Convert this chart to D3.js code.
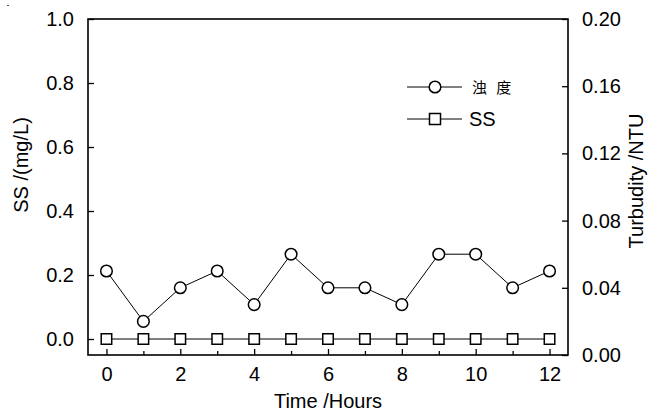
<!DOCTYPE html>
<html><head><meta charset="utf-8">
<script src="https://cdn.jsdelivr.net/npm/d3@7"></script>
<style>body{margin:0;background:#fff}svg{display:block}text{font-family:"Liberation Sans",Arial,sans-serif;fill:#000}</style>
</head><body>
<script>
const hours = [0,1,2,3,4,5,6,7,8,9,10,11,12];
const turbidity = [0.05,0.02,0.04,0.05,0.03,0.06,0.04,0.04,0.03,0.06,0.06,0.04,0.05];
const ss = [0,0,0,0,0,0,0,0,0,0,0,0,0];
const xTicks = [0,2,4,6,8,10,12];
const xMinor = [1,3,5,7,9,11];
const leftTicks = [0,0.2,0.4,0.6,0.8,1.0];
const rightTicks = [0,0.04,0.08,0.12,0.16,0.20];
const legendLabels = ["浊 度","SS"];

const W=648,H=412;
const m={l:88,r:80,t:19,b:57};
const svg=d3.select("body").append("svg").attr("width",W).attr("height",H);
const x=d3.scaleLinear().domain([-0.5,12.5]).range([m.l,W-m.r]);
const yL=d3.scaleLinear().domain([-0.05,1.0]).range([H-m.b,m.t]);
const yR=d3.scaleLinear().domain([0,0.2]).range([H-m.b,m.t]);
const fs=20;

// frame
svg.append("rect").attr("x",m.l).attr("y",m.t).attr("width",W-m.r-m.l).attr("height",H-m.b-m.t)
  .attr("fill","none").attr("stroke","#000").attr("stroke-width",1.6);

// x axis
svg.append("g").attr("transform",`translate(0,${H-m.b})`)
  .call(d3.axisBottom(x).tickValues(xTicks).tickSize(-6).tickPadding(12).tickFormat(d3.format("d")));
svg.append("g").attr("transform",`translate(0,${H-m.b})`)
  .call(d3.axisBottom(x).tickValues(xMinor).tickSize(-4).tickFormat(""));
// left axis
svg.append("g").attr("transform",`translate(${m.l},0)`)
  .call(d3.axisLeft(yL).tickValues(leftTicks).tickSize(-6).tickPadding(14).tickFormat(d3.format(".1f")));
// right axis
svg.append("g").attr("transform",`translate(${W-m.r},0)`)
  .call(d3.axisRight(yR).tickValues(rightTicks).tickSize(-6).tickPadding(14).tickFormat(d3.format(".2f")));
svg.selectAll("g .domain").remove();
svg.selectAll("g .tick line").attr("stroke","#000").attr("stroke-width",1.3);
svg.selectAll("g .tick text").attr("font-size",fs).attr("font-family",'"Liberation Sans",Arial,sans-serif').attr("fill","#000");

// axis titles
svg.append("text").attr("x",(m.l+W-m.r)/2).attr("y",408).attr("text-anchor","middle").attr("font-size",fs).text("Time /Hours");
svg.append("text").attr("transform",`translate(28,165) rotate(-90)`).attr("text-anchor","middle").attr("font-size",fs).text("SS /(mg/L)");
svg.append("text").attr("transform",`translate(643,181) rotate(-90)`).attr("text-anchor","middle").attr("font-size",fs).text("Turbudity /NTU");

// turbidity line + circles (right axis)
const line=d3.line();
svg.append("path").attr("d",line(hours.map((h,i)=>[x(h),yR(turbidity[i])]))).attr("fill","none").attr("stroke","#000").attr("stroke-width",1);
svg.selectAll("circle.t").data(hours).join("circle").attr("class","t")
  .attr("cx",d=>x(d)).attr("cy",(d,i)=>yR(turbidity[i])).attr("r",5.8)
  .attr("fill","#fff").attr("stroke","#000").attr("stroke-width",1.5);
// SS line + squares (left axis)
svg.append("path").attr("d",line(hours.map((h,i)=>[x(h),yL(ss[i])]))).attr("fill","none").attr("stroke","#000").attr("stroke-width",1);
const sq=10.5;
svg.selectAll("rect.s").data(hours).join("rect").attr("class","s")
  .attr("x",d=>x(d)-sq/2).attr("y",(d,i)=>yL(ss[i])-sq/2).attr("width",sq).attr("height",sq)
  .attr("fill","#fff").attr("stroke","#000").attr("stroke-width",1.5);

// legend
const lg=svg.append("g");
const lx0=407,lx1=462,lcx=435;
[87,119].forEach((yy,i)=>{
  lg.append("line").attr("x1",lx0).attr("x2",lx1).attr("y1",yy).attr("y2",yy).attr("stroke","#000").attr("stroke-width",1);
  if(i===0) lg.append("circle").attr("cx",lcx).attr("cy",yy).attr("r",5.8).attr("fill","#fff").attr("stroke","#000").attr("stroke-width",1.5);
  else lg.append("rect").attr("x",lcx-5.5).attr("y",yy-5.5).attr("width",11).attr("height",11).attr("fill","#fff").attr("stroke","#000").attr("stroke-width",1.5);
});
lg.append("text").attr("x",472).attr("y",93).attr("font-size",15).attr("letter-spacing",3).style("font-family",'"Noto Sans CJK SC",sans-serif').text(legendLabels[0]);
lg.append("text").attr("x",469).attr("y",126).attr("font-size",fs).text(legendLabels[1]);
// small artifact mark at top-left
svg.append("rect").attr("x",7).attr("y",5).attr("width",2).attr("height",1).attr("fill","#555");
</script>
</body></html>
